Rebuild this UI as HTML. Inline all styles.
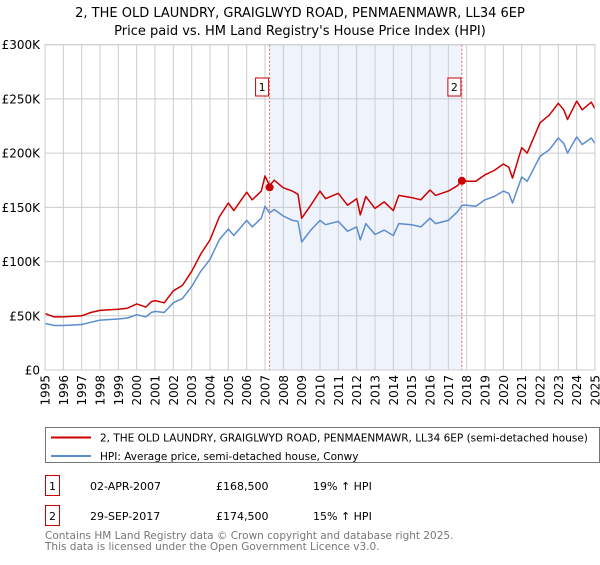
<!DOCTYPE html>
<html><head><meta charset="utf-8"><style>
body{margin:0;background:#fff;font-family:"Liberation Sans","DejaVu Sans",sans-serif;}
svg text{font-family:"DejaVu Sans","Liberation Sans",sans-serif;}
</style></head><body>
<svg id="c" width="600" height="560" xmlns="http://www.w3.org/2000/svg"></svg>
<script>
const yearsX = [1995,1995.5,1996,1997,1997.5,1998,1999,1999.5,2000,2000.5,2000.8,2001,2001.5,2002,2002.5,2003,2003.5,2004,2004.5,2005,2005.3,2006,2006.3,2006.8,2007,2007.25,2007.5,2008,2008.5,2008.8,2009,2009.5,2010,2010.3,2011,2011.5,2012,2012.2,2012.5,2013,2013.5,2014,2014.3,2015,2015.5,2016,2016.3,2017,2017.5,2017.75,2018,2018.5,2019,2019.5,2020,2020.3,2020.5,2021,2021.3,2022,2022.5,2023,2023.3,2023.5,2024,2024.3,2024.8,2025];
const hpiValues = [43,41,41,42,44,46,47,48,51,49,53,54,53,62,66,77,91,102,120,130,124,138,132,140,151,145,148,142,138,137,118,129,138,134,137,128,132,120,135,125,129,124,135,134,132,140,135,138,146,152,152,151,157,160,165,163,154,178,174,197,203,214,209,200,215,208,214,209];
const propValues = [52,49,49,50,53,55,56,57,61,58,63,64,62,73,78,91,107,120,141,154,147,164,157,165,179,170,175,168,165,162,140,152,165,158,163,152,158,143,160,149,155,147,161,159,157,166,161,165,170,175,174,174,180,184,190,187,177,205,200,228,235,246,240,231,248,240,247,241];
const yTicks = [0,50,100,150,200,250,300];
const yTickLabels = ["£0","£50K","£100K","£150K","£200K","£250K","£300K"];
const xTicks = [1995,1996,1997,1998,1999,2000,2001,2002,2003,2004,2005,2006,2007,2008,2009,2010,2011,2012,2013,2014,2015,2016,2017,2018,2019,2020,2021,2022,2023,2024,2025];
const saleYears = [2007.25,2017.74];
const saleValues = [168.5,174.5];
const saleLabels = ["1","2"];

const L=45,R=595,T=44.7,B=370;
const xs=y=>L+(y-1995)/(2025-1995)*(R-L);
const ys=v=>B-v/300*(B-T);
const NS="http://www.w3.org/2000/svg";
const svg=document.getElementById('c');
function mk(tag,attrs,parent){const e=document.createElementNS(NS,tag);for(const k in attrs)e.setAttribute(k,attrs[k]);(parent||svg).appendChild(e);return e;}

let t=mk('text',{x:300,y:17,'text-anchor':'middle','font-size':13,fill:'#000'});t.textContent="2, THE OLD LAUNDRY, GRAIGLWYD ROAD, PENMAENMAWR, LL34 6EP";


t=mk('text',{x:300,y:35,'text-anchor':'middle','font-size':13,fill:'#000'});t.textContent="Price paid vs. HM Land Registry's House Price Index (HPI)";



let sh=mk('rect',{x:xs(saleYears[0]),y:T,width:xs(saleYears[1])-xs(saleYears[0]),height:B-T,fill:'#eef3fc'});



xTicks.forEach((yr,i)=>{
  const g=mk('line',{x1:xs(yr),x2:xs(yr),y1:T,y2:B,stroke:'#cccccc','stroke-width':1});
  
  
  const tx=mk('text',{transform:`translate(${xs(yr)+4.5},375) rotate(-90)`,'text-anchor':'end','font-size':12,fill:'#000'});
  tx.textContent=String(yr);
  
  
});
yTicks.forEach((v,i)=>{
  const g=mk('line',{x1:L,x2:R,y1:ys(v),y2:ys(v),stroke:'#cccccc','stroke-width':1});
  
  
  const tx=mk('text',{x:40,y:ys(v)+4.5,'text-anchor':'end','font-size':12,fill:'#000'});
  tx.textContent=yTickLabels[i];
  
  
});

saleYears.forEach((sy,i)=>{
  const l=mk('line',{x1:xs(sy),x2:xs(sy),y1:T,y2:B,stroke:'#e06060','stroke-width':1,'stroke-dasharray':'2,2'});
  
  
  const bx=mk('rect',{x:xs(sy)-14,y:78,width:13,height:18,fill:'#fff',stroke:'#cc0000','stroke-width':1});
  
  
  const tx=mk('text',{x:xs(sy)-7.5,y:91,'text-anchor':'middle','font-size':11,fill:'#000'});
  tx.textContent=saleLabels[i];
  
  
});

function line(vals,color,name){
  const d=vals.map((v,i)=>(i?'L':'M')+xs(yearsX[i]).toFixed(1)+','+ys(v).toFixed(1)).join('');
  const p=mk('path',{d:d,fill:'none',stroke:color,'stroke-width':1.5,'stroke-linejoin':'round'});
  
  
}
line(hpiValues,'#5b8dd0','hpi-line');
line(propValues,'#cc0000','property-price-line');
saleYears.forEach((sy,i)=>{
  const c=mk('circle',{cx:xs(sy),cy:ys(saleValues[i]),r:4,fill:'#cc0000'});
  
  
});
let ax=mk('rect',{x:L,y:T,width:R-L,height:B-T,fill:'none',stroke:'#cccccc'});



const lg=mk('g',{});


mk('rect',{x:45.5,y:427.5,width:554,height:35,fill:'#fff',stroke:'#777'},lg);
mk('line',{x1:51,x2:91,y1:437.5,y2:437.5,stroke:'#cc0000','stroke-width':2},lg);
mk('line',{x1:51,x2:91,y1:456,y2:456,stroke:'#5b8dd0','stroke-width':2},lg);
t=mk('text',{x:100,y:441.5,'font-size':10.5,fill:'#000'},lg);t.textContent="2, THE OLD LAUNDRY, GRAIGLWYD ROAD, PENMAENMAWR, LL34 6EP (semi-detached house)";


t=mk('text',{x:100,y:460,'font-size':10.5,fill:'#000'},lg);t.textContent="HPI: Average price, semi-detached house, Conwy";



const rows=[["1","02-APR-2007","£168,500","19% ↑ HPI",476],["2","29-SEP-2017","£174,500","15% ↑ HPI",506]];
rows.forEach(r=>{
  const b=mk('rect',{x:45.5,y:r[4]-0.5,width:14,height:20,fill:'#fff',stroke:'#cc0000'});
  
  
  [[r[0],52.5,'middle'],[r[1],90,'start'],[r[2],216,'start'],[r[3],313,'start']].forEach((c,j)=>{
    const tx=mk('text',{x:c[1],y:r[4]+14,'text-anchor':c[2],'font-size':11,fill:'#000'});
    tx.textContent=c[0];
    
    
  });
});
t=mk('text',{x:45,y:539,'font-size':10.5,fill:'#777'});t.textContent="Contains HM Land Registry data © Crown copyright and database right 2025.";


t=mk('text',{x:45,y:550,'font-size':10.5,fill:'#777'});t.textContent="This data is licensed under the Open Government Licence v3.0.";


</script>
</body></html>
